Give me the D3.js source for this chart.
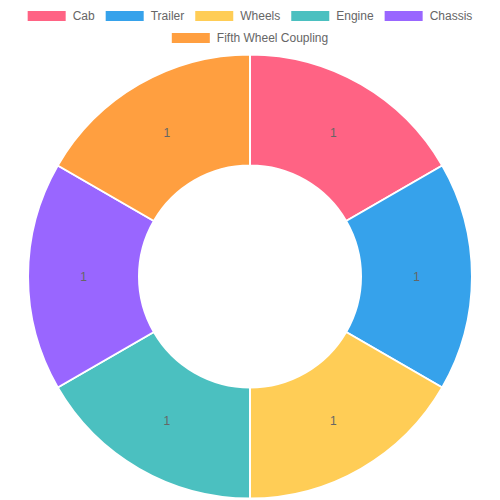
<!DOCTYPE html>
<html>
<head>
<meta charset="utf-8">
<script src="https://cdn.jsdelivr.net/npm/d3@7"></script>
<style>
  body { margin: 0; background: #fff; }
  text { font-family: "Liberation Sans", Arial, Helvetica, sans-serif; }
</style>
</head>
<body>
<svg width="500" height="500"></svg>
<script>
const labels = ['Cab', 'Trailer', 'Wheels', 'Engine', 'Chassis', 'Fifth Wheel Coupling'];
const values = [1, 1, 1, 1, 1, 1];
const colors = ['#ff6384', '#36a2eb', '#ffcd56', '#4bc0c0', '#9966ff', '#ff9f40'];

const svg = d3.select('svg');
const width = +svg.attr('width');

const data = labels.map((l, i) => ({ label: l, value: values[i], color: colors[i] }));

// legend
const boxW = 38, boxH = 10, gap = 7, pad = 11;
const rows = [data.slice(0, 5), data.slice(5)];
const rowY = [16, 38];

const legend = svg.append('g');
rows.forEach((row, r) => {
    const rowG = legend.append('g');
    let x = 0;
    row.forEach((d, i) => {
        const item = rowG.append('g').attr('transform', `translate(${x},0)`);
        item.append('rect')
            .attr('x', 0)
            .attr('y', rowY[r] - boxH / 2)
            .attr('width', boxW)
            .attr('height', boxH)
            .attr('fill', d.color);
        const t = item.append('text')
            .attr('x', boxW + gap)
            .attr('y', rowY[r])
            .attr('dy', '0.35em')
            .attr('font-size', 12)
            .attr('fill', '#666')
            .text(d.label);
        x += boxW + gap + t.node().getComputedTextLength() + (i < row.length - 1 ? pad : 0);
    });
    rowG.attr('transform', `translate(${(width - x) / 2},0)`);
});

// doughnut
const cx = 250, cy = 276.5;
const outerR = 222, innerR = 111;

const pie = d3.pie().sort(null).value(d => d.value);
const arc = d3.arc().innerRadius(innerR).outerRadius(outerR);
const labelArc = d3.arc().innerRadius((innerR + outerR) / 2).outerRadius((innerR + outerR) / 2);

const g = svg.append('g').attr('transform', `translate(${cx},${cy})`);

g.selectAll('path').data(pie(data))
    .enter().append('path')
    .attr('d', arc)
    .attr('fill', d => d.data.color)
    .attr('stroke', '#fff')
    .attr('stroke-width', 2);

g.selectAll('text.val').data(pie(data))
    .enter().append('text')
    .attr('class', 'val')
    .attr('transform', d => `translate(${labelArc.centroid(d)})`)
    .attr('text-anchor', 'middle')
    .attr('dy', '0.35em')
    .attr('font-size', 12)
    .attr('fill', '#666')
    .text(d => d.data.value);
</script>
</body>
</html>
